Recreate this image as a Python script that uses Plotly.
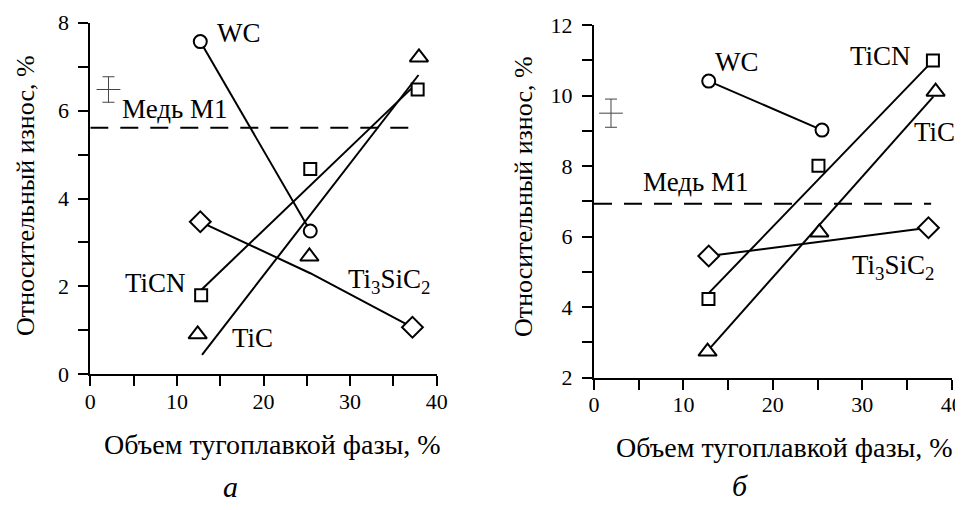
import plotly.graph_objects as go

FONT = "Liberation Serif"

# ---------- panel a ----------
a_wc_x = [12.7, 25.4]
a_wc_y = [7.57, 3.26]
a_ticn_x = [12.8, 25.4, 37.8]
a_ticn_y = [1.80, 4.67, 6.48]
a_ticn_fit_x = [12.8, 37.7]
a_ticn_fit_y = [1.92, 6.62]
a_tic_x = [12.4, 25.3, 37.95]
a_tic_y = [0.91, 2.68, 7.21]
a_tic_fit_x = [12.9, 37.9]
a_tic_fit_y = [0.44, 6.81]
a_tsc_x = [12.7, 37.2]
a_tsc_y = [3.47, 1.07]
a_tsc_line_x = [12.7, 25.4, 37.2]
a_tsc_line_y = [3.47, 2.30, 1.07]
a_cu_x = [0, 37.7]
a_cu_y = [5.61, 5.61]
a_err_x = [2.1]
a_err_y = [6.48]
a_err = [0.29]

# ---------- panel b ----------
b_wc_x = [12.83, 25.5]
b_wc_y = [10.41, 9.02]
b_ticn_x = [12.8, 25.1, 37.9]
b_ticn_y = [4.23, 8.01, 10.99]
b_ticn_fit_x = [12.8, 37.8]
b_ticn_fit_y = [4.39, 10.96]
b_tic_x = [12.7, 25.2, 38.2]
b_tic_y = [2.74, 6.12, 10.11]
b_tic_fit_x = [12.8, 37.95]
b_tic_fit_y = [2.79, 9.97]
b_tsc_x = [12.83, 37.4]
b_tsc_y = [5.45, 6.25]
b_cu_x = [0, 37.7]
b_cu_y = [6.93, 6.93]
b_err_x = [1.9]
b_err_y = [9.5]
b_err = [0.4]

x_ticks = [0, 10, 20, 30, 40]
x_ticktext = ["0", "10", "20", "30", "40"]
x_minor = [5, 15, 25, 35]
a_y_ticks = [0, 2, 4, 6, 8]
a_y_ticktext = ["0", "2", "4", "6", "8"]
a_y_minor = [1, 3, 5, 7]
b_y_ticks = [2, 4, 6, 8, 10, 12]
b_y_ticktext = ["2", "4", "6", "8", "10", "12"]
b_y_minor = [3, 5, 7, 9, 11]

x_title = "Объем тугоплавкой фазы, %"
y_title = "Относительный износ, %"

# the page body adds an 8 px offset; size the figure to fit the window
OFF = 8
W, H = 963 - OFF, 510 - OFF

def px(sx):
    return (sx - OFF) / W

def py(sy):
    return 1 - (sy - OFF) / H

fig = go.Figure()

def line(x, y, xa, ya, dash="solid"):
    fig.add_trace(go.Scatter(x=x, y=y, mode="lines", xaxis=xa, yaxis=ya,
                             line=dict(color="black", width=2, dash=dash),
                             showlegend=False, hoverinfo="skip", cliponaxis=False))

def marks(x, y, xa, ya, symbol, size):
    fig.add_trace(go.Scatter(x=x, y=y, mode="markers", xaxis=xa, yaxis=ya,
                             marker=dict(symbol=symbol, size=size, color="white",
                                         line=dict(color="black", width=2)),
                             showlegend=False, cliponaxis=False))

def errbar(x, y, e, xa, ya):
    fig.add_trace(go.Scatter(x=x, y=y, mode="markers", xaxis=xa, yaxis=ya,
                             marker=dict(symbol="line-ew-open", size=17, color="#444",
                                         line=dict(color="#444", width=1)),
                             error_y=dict(type="data", array=e, width=6,
                                          thickness=1, color="#444"),
                             showlegend=False, cliponaxis=False))

# panel a
line(a_cu_x, a_cu_y, "x", "y", dash="18px,12px")
line(a_wc_x, a_wc_y, "x", "y")
line(a_ticn_fit_x, a_ticn_fit_y, "x", "y")
line(a_tic_fit_x, a_tic_fit_y, "x", "y")
line(a_tsc_line_x, a_tsc_line_y, "x", "y")
marks(a_wc_x, a_wc_y, "x", "y", "circle", 13)
marks(a_ticn_x, a_ticn_y, "x", "y", "square", 12)
marks(a_tic_x, a_tic_y, "x", "y", "triangle-up", 16)
marks(a_tsc_x, a_tsc_y, "x", "y", "diamond", 16)
errbar(a_err_x, a_err_y, a_err, "x", "y")

# panel b
line(b_cu_x, b_cu_y, "x2", "y2", dash="18px,12px")
line(b_wc_x, b_wc_y, "x2", "y2")
line(b_ticn_fit_x, b_ticn_fit_y, "x2", "y2")
line(b_tic_fit_x, b_tic_fit_y, "x2", "y2")
line(b_tsc_x, b_tsc_y, "x2", "y2")
marks(b_wc_x, b_wc_y, "x2", "y2", "circle", 13)
marks(b_ticn_x, b_ticn_y, "x2", "y2", "square", 12)
marks(b_tic_x, b_tic_y, "x2", "y2", "triangle-up", 16)
marks(b_tsc_x, b_tsc_y, "x2", "y2", "diamond", 16)
errbar(b_err_x, b_err_y, b_err, "x2", "y2")

axis_common = dict(showline=True, linecolor="black", linewidth=2, ticks="outside",
                   ticklen=10, tickwidth=2, tickcolor="black", showgrid=False,
                   zeroline=False, tickfont=dict(family=FONT, size=22, color="black"),
                   automargin=False, fixedrange=True, tickmode="array")

def minor(vals):
    return dict(tickmode="array", tickvals=vals, ticks="outside", ticklen=10,
                tickwidth=2, tickcolor="black", showgrid=False)

fig.update_layout(
    width=W, height=H,
    margin=dict(l=0, r=0, t=0, b=0),
    paper_bgcolor="white", plot_bgcolor="white",
    xaxis=dict(domain=[px(90.3), px(436.7)], range=[0, 40],
               tickvals=x_ticks, ticktext=x_ticktext, minor=minor(x_minor), anchor="y",
               ticklabelstandoff=-4, **axis_common),
    yaxis=dict(domain=[py(374.3), py(22.7)], range=[0, 8],
               tickvals=a_y_ticks, ticktext=a_y_ticktext, minor=minor(a_y_minor), anchor="x",
               ticklabelstandoff=5, **axis_common),
    xaxis2=dict(domain=[px(594), px(951.7)], range=[0, 40],
                tickvals=x_ticks, ticktext=x_ticktext, minor=minor(x_minor), anchor="y2",
                ticklabelstandoff=-4, **axis_common),
    yaxis2=dict(domain=[py(377.7), py(25)], range=[2, 12],
                tickvals=b_y_ticks, ticktext=b_y_ticktext, minor=minor(b_y_minor), anchor="x2",
                ticklabelstandoff=5, **axis_common),
)

lab_font = dict(family=FONT, size=27, color="black")
ann = []
def dlab(text, x, y, xr, yr):
    ann.append(dict(text=text, x=x, y=y, xref=xr, yref=yr, showarrow=False,
                    xanchor="center", yanchor="middle", font=lab_font))

dlab("WC", 17.2, 7.76, "x", "y")
dlab("Медь М1", 9.8, 6.04, "x", "y")
dlab("TiCN", 7.5, 2.08, "x", "y")
dlab("TiC", 18.7, 0.83, "x", "y")
dlab("Ti<sub>3</sub>SiC<sub>2</sub>", 34.5, 2.12, "x", "y")

dlab("WC", 16.0, 10.95, "x2", "y2")
dlab("TiCN", 32.0, 11.12, "x2", "y2")
dlab("TiC", 38.1, 8.97, "x2", "y2")
dlab("Ti<sub>3</sub>SiC<sub>2</sub>", 33.4, 5.14, "x2", "y2")
dlab("Медь М1", 11.4, 7.55, "x2", "y2")

def plab(text, sx, sy, angle=0, size=24, italic=False):
    t = f"<i>{text}</i>" if italic else text
    ann.append(dict(text=t, x=px(sx), y=py(sy), xref="paper", yref="paper",
                    showarrow=False, xanchor="center", yanchor="middle",
                    textangle=angle, font=dict(family=FONT, size=size, color="black")))

plab(x_title, 272, 444, size=28)
plab(x_title, 784, 447, size=28)
plab(y_title, 25, 196, angle=-90, size=26)
plab(y_title, 523, 197, angle=-90, size=26)
plab("а", 230, 486, size=30, italic=True)
plab("б", 740, 485, size=30, italic=True)

fig.update_layout(annotations=ann)
fig.write_html("out.html")
